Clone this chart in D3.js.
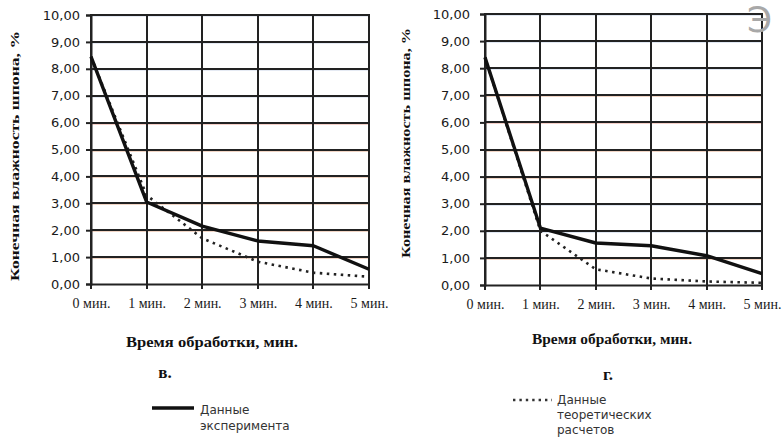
<!DOCTYPE html>
<html><head><meta charset="utf-8">
<script src="https://cdn.jsdelivr.net/npm/d3@7"></script>
<style>body{margin:0;background:#fff}</style>
</head><body>
<svg id="c" width="782" height="441"></svg>
<script>
const categories = ["0 мин.","1 мин.","2 мин.","3 мин.","4 мин.","5 мин."];
const yTicks = [0,1,2,3,4,5,6,7,8,9,10];
const expV = [8.45, 3.05, 2.15, 1.6, 1.42, 0.55];
const theoV = [8.45, 3.3, 1.7, 0.83, 0.42, 0.27];
const expG = [8.4, 2.1, 1.55, 1.45, 1.08, 0.42];
const theoG = [8.4, 2.0, 0.58, 0.24, 0.13, 0.08];
const yTitle = "Конечная влажность шпона, %";
const xTitle = "Время обработки, мин.";
const panelLabels = ["в.", "г."];
const legendExp = ["Данные", "эксперимента"];
const legendTheo = ["Данные", "теоретических", "расчетов"];

const svg = d3.select("#c");
const fmt = v => v.toFixed(2).replace(".", ",");

function panel(o) {
  const x = d3.scalePoint().domain(categories).range([o.x0, o.x1]);
  const y = d3.scaleLinear().domain([0, 10]).range([o.y0, o.y1]);
  const g = svg.append("g");
  yTicks.forEach((t, i) => {
    if (t === 0) return;
    const yy = Math.round(y(t));
    g.append("line").attr("x1", o.x0).attr("x2", o.x1).attr("y1", yy + 1.5).attr("y2", yy + 1.5)
      .attr("stroke", o.fringe[i] || "#fff").attr("stroke-width", 1).attr("opacity", 0.25);
    g.append("line").attr("x1", o.x0).attr("x2", o.x1).attr("y1", yy).attr("y2", yy)
      .attr("stroke", "#222").attr("stroke-width", 2);
  });
  categories.forEach(c => {
    const xx = Math.round(x(c));
    g.append("line").attr("x1", xx).attr("x2", xx).attr("y1", y(10) - 1).attr("y2", y(0) + 5)
      .attr("stroke", "#222").attr("stroke-width", 2);
  });
  const ya = g.append("g").attr("transform", `translate(${o.x0},0)`)
    .call(d3.axisLeft(y).tickValues(yTicks).tickFormat(fmt).tickSize(5).tickPadding(o.pad));
  ya.select(".domain").attr("stroke", "#222").attr("stroke-width", 2);
  ya.selectAll(".tick line").attr("stroke", "#222").attr("stroke-width", 2);
  ya.selectAll("text").attr("font-family", "DejaVu Sans").attr("font-size", 13).attr("fill", "#1a1a1a");
  const xa = g.append("g").attr("transform", `translate(0,${Math.round(y(0))})`)
    .call(d3.axisBottom(x).tickSize(0).tickPadding(14));
  xa.select(".domain").attr("stroke", "#222").attr("stroke-width", 2);
  xa.selectAll("text").attr("font-family", "Liberation Serif").attr("font-size", 14).attr("fill", "#1a1a1a");
  const line = d3.line().x((d, i) => x(categories[i])).y(d => y(d));
  g.append("path").datum(o.theo).attr("d", line).attr("fill", "none")
    .attr("stroke", "#222").attr("stroke-width", 2.6).attr("stroke-dasharray", "2.5,4.5").attr("stroke-linecap", "butt");
  g.append("path").datum(o.exp).attr("d", line).attr("fill", "none")
    .attr("stroke", "#111").attr("stroke-width", 3.4).attr("stroke-linejoin", "round");
  g.append("text").attr("transform", `translate(${o.ytx},${o.yty}) rotate(-90)`)
    .attr("text-anchor", "middle").attr("font-family", "Liberation Serif").attr("font-weight", "bold")
    .attr("font-size", 13).attr("textLength", o.ytl).attr("lengthAdjust", "spacingAndGlyphs")
    .attr("fill", "#111").text(yTitle);
  g.append("text").attr("x", o.xtx).attr("y", o.xty).attr("text-anchor", "middle")
    .attr("font-family", "Liberation Serif").attr("font-weight", "bold").attr("font-size", 15)
    .attr("textLength", o.xtl).attr("lengthAdjust", "spacingAndGlyphs")
    .attr("fill", "#111").text(xTitle);
  g.append("text").attr("x", o.plx).attr("y", o.ply).attr("text-anchor", "middle")
    .attr("font-family", "Liberation Serif").attr("font-weight", "bold").attr("font-size", 17)
    .attr("fill", "#111").text(o.label);
}

panel({x0: 91, x1: 369, y0: 284, y1: 15, pad: 6, exp: expV, theo: theoV,
  fringe: [null, "#c85a1e", "#c85a1e", "#c85a1e", "#c85a1e", "#c85a1e", "#d4442a", "#9bb0d0", "#9bb0d0", "#9bb0d0", "#9bb0d0"],
  ytx: 19, yty: 156, ytl: 250, xtx: 212, xty: 347, xtl: 172, plx: 165, ply: 378, label: panelLabels[0]});
panel({x0: 485, x1: 762, y0: 285, y1: 14, pad: 10, exp: expG, theo: theoG,
  fringe: [null, "#c85a1e", "#8aa8d0", "#8aa8d0", "#c85a1e", "#c85a1e", "#d4442a", "#c85a1e", "#8aa8d0", "#8aa8d0", "#8aa8d0"],
  ytx: 410, yty: 143, ytl: 230, xtx: 612, xty: 344, xtl: 160, plx: 608, ply: 380, label: panelLabels[1]});

const lg = svg.append("g");
lg.append("line").attr("x1", 152).attr("x2", 194).attr("y1", 408).attr("y2", 408)
  .attr("stroke", "#111").attr("stroke-width", 3.4);
legendExp.forEach((t, i) => lg.append("text").attr("x", 200).attr("y", 414 + i * 16)
  .attr("font-family", "DejaVu Sans").attr("font-size", 12).attr("fill", "#333").text(t));
lg.append("line").attr("x1", 513).attr("x2", 552).attr("y1", 400).attr("y2", 400)
  .attr("stroke", "#333").attr("stroke-width", 2.4).attr("stroke-dasharray", "2.4,4");
legendTheo.forEach((t, i) => lg.append("text").attr("x", 557).attr("y", 404 + i * 15)
  .attr("font-family", "DejaVu Sans").attr("font-size", 12).attr("fill", "#333").text(t));

svg.append("text").attr("x", 747).attr("y", 32).attr("font-family", "DejaVu Sans")
  .attr("font-size", 36).attr("fill", "#a8a8a8").text("Э");
</script>
</body></html>
